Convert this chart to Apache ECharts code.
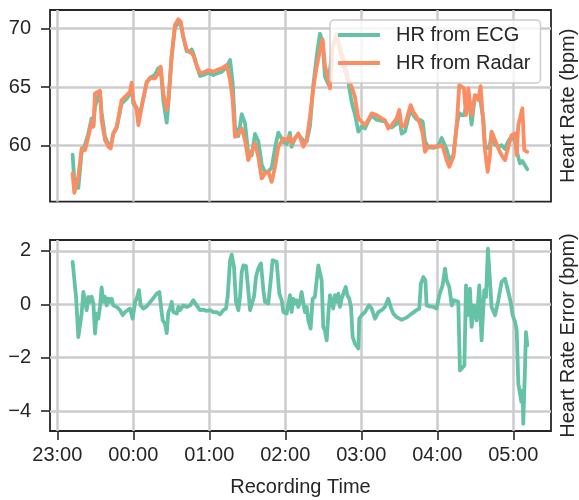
<!DOCTYPE html>
<html>
<head>
<meta charset="utf-8">
<script src="https://cdn.jsdelivr.net/npm/echarts@6/dist/echarts.min.js"></script>
<style>html,body{margin:0;padding:0;background:#fff;}#c{width:579px;height:500px;}</style>
</head>
<body>
<div id="c"></div>
<script>
// minutes after 23:00
const hrMinutes = [12.1,13.45,16.6,19.2,21.9,24.5,27.1,28.5,29.8,33.7,35.0,37.7,40.3,42.1,44.2,46.9,50.8,54.8,57.4,58.7,60.0,62.7,64.0,66.6,70.6,73.2,77.1,79.8,81.6,83.7,86.4,87.7,90.3,92.9,95.6,97.4,99.5,102.2,104.8,106.1,107.4,110.0,112.7,116.6,119.3,123.2,125.8,129.8,133.7,136.4,138.5,140.3,143.0,145.6,148.2,150.8,153.5,156.1,158.7,161.4,164.0,166.6,169.3,171.9,174.5,178.5,181.1,183.7,185.0,187.7,190.3,191.6,194.2,196.9,199.5,202.1,204.8,207.4,209.5,211.3,214.0,215.3,217.4,220.5,224.5,228.4,232.4,235.0,237.7,240.3,242.9,245.5,248.2,252.1,256.1,258.7,261.3,264.0,267.9,270.0,271.9,274.5,277.1,279.0,281.1,283.7,286.3,288.5,290.3,292.9,296.9,300.8,303.5,304.8,307.4,309.5,312.7,315.3,317.4,319.2,321.0,322.7,324.5,327.1,329.8,332.4,334.2,336.4,337.7,339.8,341.6,342.9,345.6,348.2,350.8,353.5,356.1,358.7,361.4,362.7,364.0,365.3,367.2,368.7,371.1];
const ecgHr = [59.23,57.0,56.4,59.42,60.08,61.04,62.32,61.64,63.36,64.58,62.81,60.76,60.12,59.87,61.01,61.51,63.59,64.01,64.44,64.96,63.59,63.25,62.26,63.32,65.37,65.79,66.04,66.61,66.63,63.86,61.96,63.6,67.67,70.08,70.47,70.46,69.24,68.05,67.97,68.2,67.87,66.83,65.94,66.08,66.22,66.01,66.15,66.29,66.71,67.3,65.3,61.6,60.83,62.68,61.92,59.3,59.19,61.0,60.39,58.41,57.73,57.81,58.12,59.83,61.11,60.33,60.13,61.1,59.91,60.65,60.95,60.85,60.44,60.38,61.66,65.13,67.63,69.55,68.76,65.89,65.24,65.22,68.43,69.52,67.79,66.37,63.72,62.69,61.2,61.63,61.47,62.08,62.59,62.21,62.11,62.08,61.68,61.56,61.85,62.49,61.03,61.21,62.35,63.11,62.59,62.24,62.2,62.05,60.38,59.85,59.81,60.01,60.65,60.48,59.67,58.85,59.15,61.7,62.77,62.61,62.6,63.3,64.4,61.8,64.27,64.19,63.73,62.26,59.92,59.78,60.09,61.09,60.07,59.92,60.04,59.73,60.37,60.8,60.4,59.6,59.0,58.5,58.7,58.6,58.0];
const radarHr = [57.64,55.98,57.35,59.77,59.62,60.76,62.04,61.61,64.46,64.68,62.18,60.48,59.91,59.77,61.05,61.61,63.89,64.31,64.6,65.36,63.89,63.04,61.76,63.32,65.45,65.74,65.74,66.16,66.73,64.46,63.04,63.89,67.58,70.28,70.77,70.56,69.28,68.15,68.01,68.15,67.72,66.87,66.16,66.3,66.44,66.3,66.44,66.59,66.87,65.6,63.89,60.76,61.05,61.47,60.48,58.77,59.48,60.2,59.05,57.21,57.64,57.78,56.92,58.2,59.91,60.62,60.48,60.76,60.2,60.62,61.05,60.76,59.91,60.48,62.46,64.88,66.73,68.15,69.06,66.87,65.59,64.88,68.43,69.43,67.58,65.87,65.02,64.17,62.33,62.04,61.76,62.18,62.75,62.61,62.33,62.18,61.47,61.76,62.33,63.04,61.61,61.76,62.75,63.46,62.89,62.46,61.9,61.05,59.48,59.91,59.91,59.91,60.05,59.77,58.77,58.2,59.05,61.61,65.17,65.02,64.9,62.61,64.88,62.61,64.31,63.89,65.08,61.76,59.62,57.78,59.19,61.19,60.48,59.77,59.2,58.77,59.91,60.9,61.05,59.2,61.76,61.9,63.18,59.62,59.48];

const errMinutes = [12.1,13.2,14.8,16.6,17.9,19.2,20.6,21.9,23.2,24.5,25.8,27.1,28.5,29.8,31.1,32.4,33.7,35.0,36.3,37.7,39.0,40.3,41.6,42.9,44.2,46.9,49.5,51.6,53.5,57.4,59.5,61.4,62.7,64.5,65.8,67.9,70.6,74.5,78.5,80.6,81.9,83.2,85.0,86.4,87.7,89.0,90.3,91.6,94.3,95.6,96.9,99.5,102.2,104.8,107.4,110.0,112.7,115.3,117.9,120.6,123.2,125.8,128.5,131.1,133.2,134.5,136.4,137.7,139.5,141.1,143.0,144.3,145.6,146.9,149.0,150.8,152.2,153.5,155.3,156.9,158.7,160.8,162.7,164.0,165.3,166.6,168.5,170.0,173.2,175.3,177.2,178.5,181.1,183.7,185.0,186.3,187.6,189.0,190.3,191.6,192.9,194.2,195.5,196.9,198.2,200.0,201.6,203.4,204.8,206.1,207.4,208.7,210.0,211.3,212.7,214.0,215.3,216.6,217.9,219.2,220.5,221.9,223.2,224.5,225.8,227.7,229.0,230.5,231.9,233.2,235.0,237.7,238.4,240.3,242.9,246.1,248.2,250.8,253.5,256.1,258.7,261.3,263.2,265.3,267.9,271.9,275.8,279.8,283.7,285.8,287.1,289.0,290.6,291.6,294.2,296.9,299.5,301.6,304.2,306.1,307.4,309.5,311.4,313.2,316.6,317.9,319.2,321.4,322.7,324.0,325.8,327.1,329.0,331.1,333.2,335.0,337.1,338.5,340.0,341.6,342.9,345.6,348.2,350.8,353.5,354.8,356.1,358.2,359.5,361.4,362.7,364.0,365.3,366.4,367.4,367.9,369.3,370.0,371.1];
const errValues = [1.59,1.52,0.28,-1.23,-1.25,-0.35,0.46,0.46,-0.22,0.28,0.09,0.28,0.03,-1.1,-0.35,-0.54,-0.1,0.63,0.09,0.28,-0.04,0.21,0.09,0.21,-0.04,-0.1,-0.22,-0.41,-0.29,-0.16,-0.54,0.09,0.21,0.53,-0.04,-0.16,-0.08,0.15,0.4,0.46,-0.1,-0.6,-0.73,-1.08,-0.29,-0.16,0.09,-0.29,-0.35,-0.1,-0.22,-0.04,-0.1,-0.04,0.15,-0.04,-0.22,-0.2,-0.25,-0.22,-0.29,-0.29,-0.38,-0.22,-0.16,0.28,1.65,1.86,1.4,0.09,-0.22,0.28,1.21,1.46,1.43,0.53,-0.22,-0.29,0.28,1.03,1.34,1.53,0.53,0.09,0.15,0.03,0.9,1.65,1.59,0.4,0.15,-0.29,-0.35,0.34,-0.29,0.21,0.03,0.15,-0.1,0.09,0.46,0.53,-0.29,-0.1,-0.6,-0.91,0.21,0.28,0.9,1.46,1.4,0.9,-0.85,-0.98,-1.35,-0.35,0.34,0.15,-0.16,0.34,0.09,0.4,-0.1,0.21,0.28,0.65,0.34,0.21,-0.1,-1.22,-1.48,-1.66,-0.54,-0.41,-0.29,-0.04,-0.16,-0.54,-0.29,-0.22,-0.1,0.21,-0.1,-0.35,-0.48,-0.58,-0.5,-0.35,-0.22,-0.16,0.78,1.02,0.9,-0.04,-0.08,-0.1,-0.16,0.34,0.71,1.34,0.9,0.65,-0.04,0.15,0.09,-2.48,-2.41,-2.29,0.71,-0.41,0.59,-0.85,-0.04,-0.6,0.71,-1.35,0.53,0.28,2.09,0.9,-0.1,-0.41,0.15,0.84,0.96,0.9,0.46,0.03,-0.41,-0.66,-0.98,-2.98,-3.04,-3.66,-3.23,-4.48,-2.35,-1.04,-1.54];

const xTicks = [0,60,120,180,240,300,360];
const xTickLabels = ['23:00','00:00','01:00','02:00','03:00','04:00','05:00'];
const hrTicks = [60,65,70];
const errTicks = [-4,-2,0,2];
const seriesNames = ['HR from ECG','HR from Radar'];

const FONT = 'Liberation Sans, Arial, sans-serif';
const DARK = '#262626';
const GRIDC = '#cccccc';
const TEAL = '#66c2a5', ORANGE = '#fc8d62';

const chart = echarts.init(document.getElementById('c'), null, {renderer:'canvas'});
const xBase = (gi, showLabels) => ({
  type:'value', gridIndex:gi, min:-5.76, max:389.8,
  axisLine:{show:false, onZero:false},
  axisTick:{show:showLabels, customValues:xTicks, length:9, inside:false, lineStyle:{color:DARK,width:1.6}},
  axisLabel:{show:showLabels, customValues:xTicks, fontSize:20, fontFamily:FONT, color:DARK, margin:14,
    formatter:v => xTickLabels[xTicks.indexOf(Math.round(v))] || ''},
  splitLine:{show:true, lineStyle:{color:GRIDC,width:2.5}}
});
const yBase = (gi, min, max, ticks, name) => ({
  type:'value', gridIndex:gi, min:min, max:max,
  axisLine:{show:false, onZero:false},
  axisTick:{show:true, customValues:ticks, length:9, inside:false, lineStyle:{color:DARK,width:1.6}},
  axisLabel:{customValues:ticks, fontSize:20, fontFamily:FONT, color:DARK, margin:19,
    formatter:v => String(v).replace('-','\u2212')},
  splitLine:{show:true, lineStyle:{color:GRIDC,width:2.5}},
  name:name, nameLocation:'middle', nameGap:-528,
  nameTextStyle:{fontSize:20, fontFamily:FONT, color:DARK}
});

chart.setOption({
  animation:false,
  backgroundColor:'#ffffff',
  textStyle:{fontFamily:FONT},
  grid:[
    {left:50, top:10, width:501, height:191.7, show:true, borderColor:DARK, borderWidth:1.8, backgroundColor:'transparent', containLabel:false, outerBoundsMode:'none'},
    {left:50, top:240, width:501, height:191, show:true, borderColor:DARK, borderWidth:1.8, backgroundColor:'transparent', containLabel:false, outerBoundsMode:'none'}
  ],
  xAxis:[xBase(0,false), Object.assign(xBase(1,true), {name:'Recording Time', nameLocation:'middle', nameGap:46,
    nameTextStyle:{fontSize:20, fontFamily:FONT, color:DARK}})],
  yAxis:[
    yBase(0, 55.23, 71.56, hrTicks, 'Heart Rate (bpm)'),
    yBase(1, -4.75, 2.41, errTicks, 'Heart Rate Error (bpm)')
  ],
  legend:{
    data:seriesNames, orient:'vertical', left:330, top:20,
    icon:'rect', itemWidth:42, itemHeight:4, itemGap:8,
    padding:[5,10,10,8],
    backgroundColor:'rgba(255,255,255,0.8)', borderColor:'#cccccc', borderWidth:1.5, borderRadius:4,
    textStyle:{fontSize:20, fontFamily:FONT, color:DARK, padding:[0,0,0,11]}
  },
  series:[
    {name:seriesNames[0], type:'line', xAxisIndex:0, yAxisIndex:0, color:TEAL, showSymbol:false, symbol:'none',
      lineStyle:{width:3.8, color:TEAL, join:'round', cap:'round'},
      data:hrMinutes.map((m,i)=>[m, ecgHr[i]])},
    {name:seriesNames[1], type:'line', xAxisIndex:0, yAxisIndex:0, color:ORANGE, showSymbol:false, symbol:'none',
      lineStyle:{width:3.8, color:ORANGE, join:'round', cap:'round'},
      data:hrMinutes.map((m,i)=>[m, radarHr[i]])},
    {name:'Error', type:'line', xAxisIndex:1, yAxisIndex:1, color:TEAL, showSymbol:false, symbol:'none',
      lineStyle:{width:3.8, color:TEAL, join:'round', cap:'round'},
      data:errMinutes.map((m,i)=>[m, errValues[i]])}
  ]
});
</script>
</body>
</html>
